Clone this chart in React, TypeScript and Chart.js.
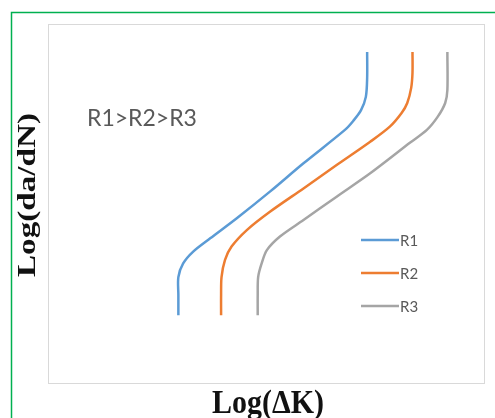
import React, { useEffect, useRef } from "react";
import { Chart, registerables } from "chart.js";

Chart.register(...registerables);

// Crack growth curves: Log(ΔK) on x, Log(da/dN) on y (arbitrary 0–100 units)
const R1_LOG_DK = [73.2, 73.2, 72.9, 71.8, 70.0, 68.1, 58.6, 50.9, 43.3, 37.2, 33.3, 31.0, 29.9, 29.9, 29.9];
const R1_LOG_DADN = [92.2, 85.0, 79.7, 76.0, 73.0, 70.5, 61.2, 53.3, 45.9, 40.3, 36.6, 33.3, 29.5, 24.5, 18.9];

const R2_LOG_DK = [83.6, 83.6, 83.3, 82.4, 81.1, 78.4, 73.9, 66.2, 58.6, 50.9, 45.6, 42.1, 40.6, 39.8, 39.7, 39.7];
const R2_LOG_DADN = [92.2, 86.4, 82.2, 78.0, 75.2, 71.4, 67.2, 60.7, 54.2, 47.7, 42.6, 38.0, 34.3, 29.5, 24.5, 18.9];

const R3_LOG_DK = [91.6, 91.6, 91.1, 89.4, 86.9, 83.0, 73.9, 66.2, 58.6, 53.2, 50.2, 49.0, 48.2, 48.1, 48.1];
const R3_LOG_DADN = [92.2, 81.6, 78.0, 74.2, 70.5, 66.9, 58.4, 51.9, 45.4, 40.8, 37.0, 33.3, 29.5, 24.5, 18.9];

const SERIES_NAMES = ["R1", "R2", "R3"];
const SERIES_COLORS = ["#5B9BD5", "#ED7D31", "#A5A5A5"];
const NOTE_TEXT = "R1>R2>R3";
const X_TITLE = "Log(ΔK)";
const Y_TITLE = "Log(da/dN)";

const toPoints = (xs: number[], ys: number[]) => xs.map((x, i) => ({ x, y: ys[i] }));

// Draws text scaled so it fills a given length at a given font size
function stretchedText(
  ctx: CanvasRenderingContext2D,
  text: string,
  font: string,
  targetWidth: number
) {
  ctx.font = font;
  const w = ctx.measureText(text).width;
  const sx = targetWidth / w;
  ctx.scale(sx, 1);
  ctx.textAlign = "center";
  ctx.textBaseline = "alphabetic";
  ctx.fillText(text, 0, 0);
}

const decorPlugin = {
  id: "decor",
  beforeDraw(chart: any) {
    const { ctx, width, height, chartArea } = chart;
    ctx.save();
    ctx.fillStyle = "#ffffff";
    ctx.fillRect(0, 0, width, height);
    // outer green frame (left and top edges visible)
    ctx.strokeStyle = "#00B050";
    ctx.lineWidth = 1.5;
    ctx.beginPath();
    ctx.moveTo(11.5, height + 2);
    ctx.lineTo(11.5, 12.5);
    ctx.lineTo(width + 2, 12.5);
    ctx.stroke();
    // plot area border
    ctx.strokeStyle = "#D9D9D9";
    ctx.lineWidth = 1;
    ctx.strokeRect(
      Math.round(chartArea.left) + 0.5,
      Math.round(chartArea.top) + 0.5,
      Math.round(chartArea.right - chartArea.left),
      Math.round(chartArea.bottom - chartArea.top)
    );
    ctx.restore();
  },
  afterDraw(chart: any) {
    const { ctx, chartArea } = chart;
    ctx.save();

    // annotation inside the plot
    ctx.fillStyle = "#595959";
    ctx.font = "23px Lato";
    ctx.textAlign = "left";
    ctx.textBaseline = "middle";
    ctx.fillText(NOTE_TEXT, 87, 119);

    // legend entries
    const legendY = [240, 273, 306];
    SERIES_NAMES.forEach((name, i) => {
      ctx.strokeStyle = SERIES_COLORS[i];
      ctx.lineWidth = 2.5;
      ctx.beginPath();
      ctx.moveTo(361, legendY[i]);
      ctx.lineTo(399, legendY[i]);
      ctx.stroke();
      ctx.fillStyle = "#595959";
      ctx.font = "15px Lato";
      ctx.textAlign = "left";
      ctx.textBaseline = "middle";
      ctx.fillText(name, 400, legendY[i] + 1);
    });

    // axis titles
    ctx.fillStyle = "#111111";
    ctx.save();
    ctx.translate((chartArea.left + chartArea.right) / 2 + 2, 413);
    stretchedText(ctx, X_TITLE, "bold 33px 'Liberation Serif'", 112);
    ctx.restore();

    ctx.save();
    ctx.translate(35, 195);
    ctx.rotate(-Math.PI / 2);
    stretchedText(ctx, Y_TITLE, "bold 26px 'Liberation Serif'", 164);
    ctx.restore();

    ctx.restore();
  },
};

export default function App() {
  const canvasRef = useRef<HTMLCanvasElement | null>(null);

  useEffect(() => {
    const canvas = canvasRef.current;
    if (!canvas) return;
    const series = [
      toPoints(R1_LOG_DK, R1_LOG_DADN),
      toPoints(R2_LOG_DK, R2_LOG_DADN),
      toPoints(R3_LOG_DK, R3_LOG_DADN),
    ];
    const chart = new Chart(canvas, {
      type: "scatter",
      data: {
        datasets: series.map((data, i) => ({
          label: SERIES_NAMES[i],
          data,
          showLine: true,
          borderColor: SERIES_COLORS[i],
          backgroundColor: SERIES_COLORS[i],
          borderWidth: 2.5,
          pointRadius: 0,
          tension: 0.3,
          fill: false,
        })),
      },
      options: {
        responsive: false,
        maintainAspectRatio: false,
        devicePixelRatio: 1,
        animation: false,
        events: [],
        layout: { padding: { left: 48, top: 24, right: 11, bottom: 35 } },
        scales: {
          x: { type: "linear", min: 0, max: 100, display: false },
          y: { type: "linear", min: 0, max: 100, display: false },
        },
        plugins: {
          legend: { display: false },
          tooltip: { enabled: false },
        },
      },
      plugins: [decorPlugin],
    });
    return () => chart.destroy();
  }, []);

  return (
    <div style={{ position: "absolute", left: 0, top: 0, width: 495, height: 418 }}>
      <canvas ref={canvasRef} width={495} height={418} style={{ width: 495, height: 418, display: "block" }} />
    </div>
  );
}
